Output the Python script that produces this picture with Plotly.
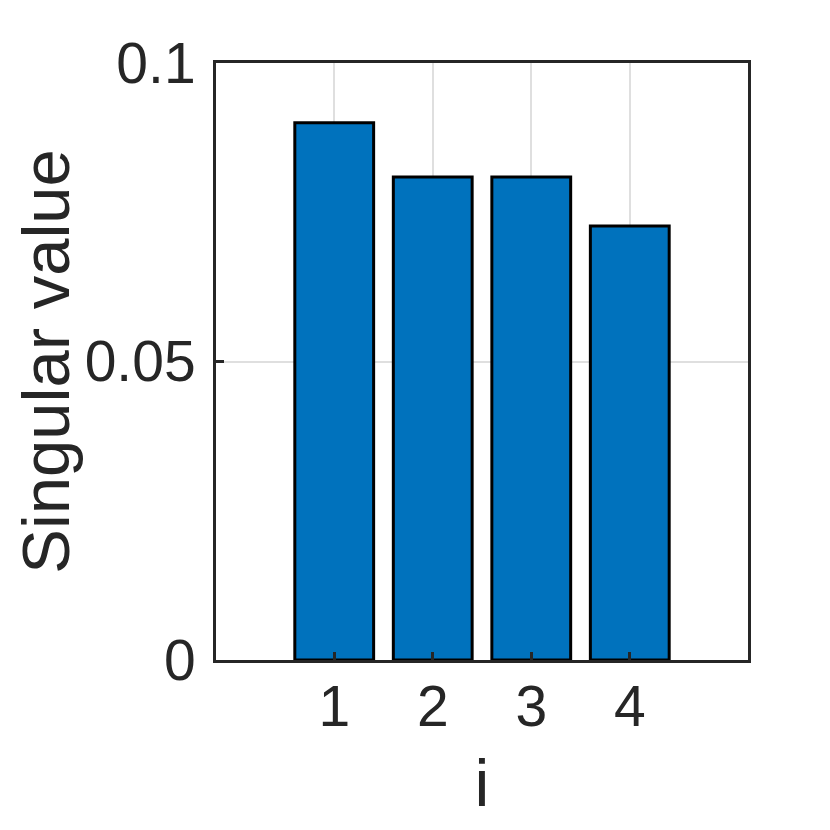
import plotly.graph_objects as go

categories = [1, 2, 3, 4]
singular_values = [0.0900, 0.0809, 0.0809, 0.0727]
y_tick_vals = [0, 0.05, 0.1]
y_tick_text = ["0", "0.05", "0.1"]

fig = go.Figure()
fig.add_trace(go.Bar(
    x=categories, y=singular_values, width=0.8,
    marker=dict(color="#0072BD", line=dict(color="black", width=3)),
))

tick_font = dict(family="Liberation Sans, Arial, sans-serif", size=57, color="#262626")
title_font = dict(family="Liberation Sans, Arial, sans-serif", size=67, color="#262626")
fig.update_layout(
    width=830, height=830,
    margin=dict(l=208, r=90, t=55, b=178),
    paper_bgcolor="white", plot_bgcolor="white",
    showlegend=False,
    font=tick_font,
)
fig.update_xaxes(
    range=[-0.2, 5.2], tickvals=categories, ticktext=[str(c) for c in categories],
    showline=True, linecolor="#262626", linewidth=3, mirror=True,
    ticks="inside", ticklen=8, tickwidth=3, tickcolor="#262626",
    showgrid=True, gridcolor="#dfdfdf", gridwidth=2, zeroline=False,
    tickfont=tick_font, automargin=True, ticklabelstandoff=-5,
    title=dict(text="i", font=title_font, standoff=22),
)
fig.update_yaxes(
    range=[0, 0.1], tickvals=y_tick_vals, ticktext=y_tick_text,
    showline=True, linecolor="#262626", linewidth=3, mirror=True,
    ticks="inside", ticklen=8, tickwidth=3, tickcolor="#262626",
    showgrid=True, gridcolor="#dfdfdf", gridwidth=2, zeroline=False,
    tickfont=tick_font, automargin=True, ticklabelstandoff=6,
    title=dict(text="Singular value", font=title_font, standoff=10),
)

fig.write_html("out.html")
